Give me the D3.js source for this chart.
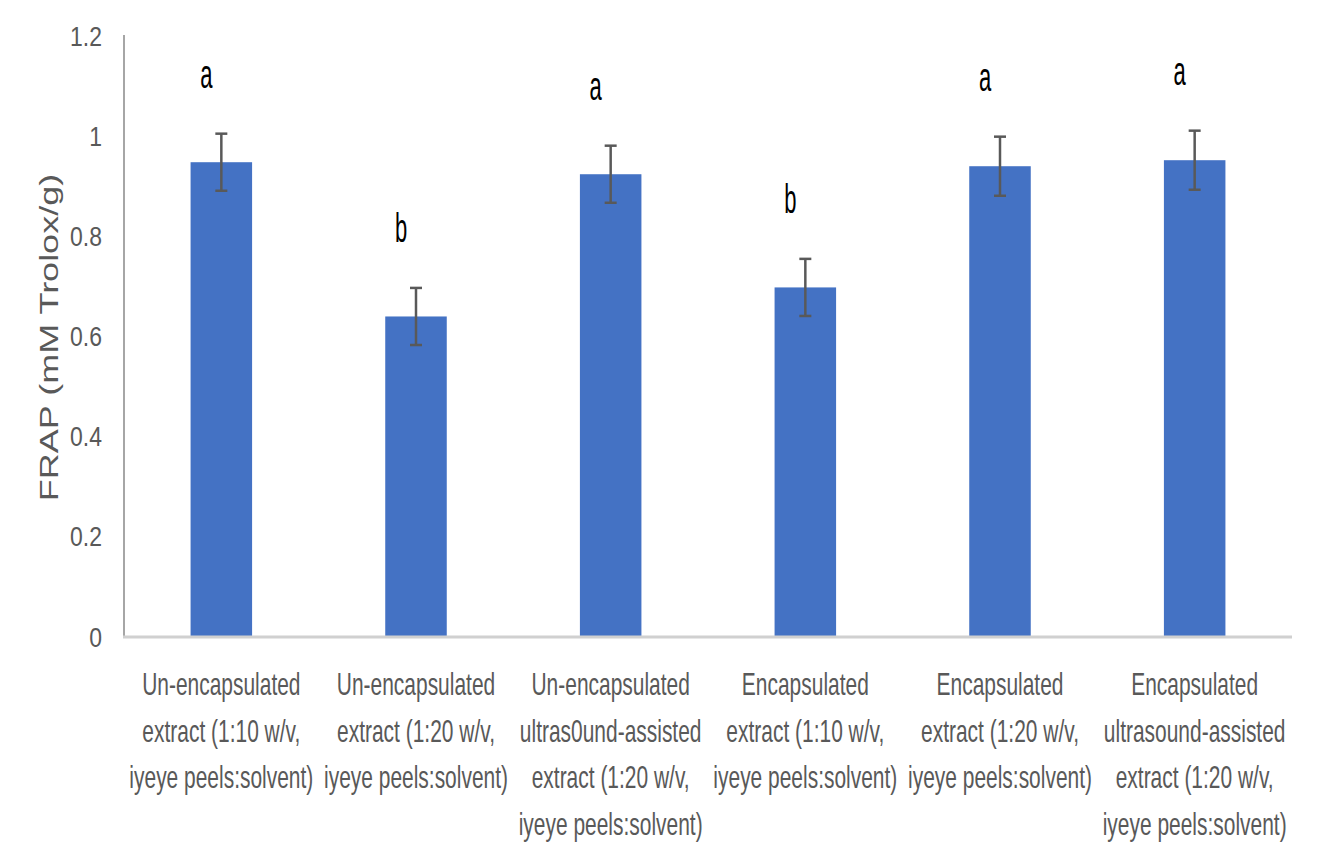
<!DOCTYPE html>
<html>
<head>
<meta charset="utf-8">
<script src="https://cdn.jsdelivr.net/npm/d3@7"></script>
<style>
  html, body { margin: 0; padding: 0; background: #ffffff; }
  svg { display: block; }
  text { font-family: "Liberation Sans", Arial, sans-serif; }
</style>
</head>
<body>
<svg id="chart" width="1335" height="842"></svg>
<script>
// FRAP antioxidant activity of iyeye peel extracts
const categories = [
  ["Un-encapsulated", "extract (1:10 w/v,", "iyeye peels:solvent)"],
  ["Un-encapsulated", "extract (1:20 w/v,", "iyeye peels:solvent)"],
  ["Un-encapsulated", "ultras0und-assisted", "extract (1:20 w/v,", "iyeye peels:solvent)"],
  ["Encapsulated", "extract (1:10 w/v,", "iyeye peels:solvent)"],
  ["Encapsulated", "extract (1:20 w/v,", "iyeye peels:solvent)"],
  ["Encapsulated", "ultrasound-assisted", "extract (1:20 w/v,", "iyeye peels:solvent)"]
];
const frapValues = [0.946, 0.638, 0.922, 0.696, 0.938, 0.950];
const frapErrors = [0.057, 0.057, 0.057, 0.057, 0.059, 0.059];
const groupLetters = ["a", "b", "a", "b", "a", "a"];
const yTicks = [0, 0.2, 0.4, 0.6, 0.8, 1, 1.2];
const yTitle = "FRAP (mM Trolox/g)";

const svg = d3.select("#chart");
const plot = { left: 124, right: 1292, top: 35, bottom: 636 };

const x = d3.scaleBand()
  .domain(d3.range(categories.length))
  .range([plot.left, plot.right])
  .paddingInner(0.684)
  .paddingOuter(0.342);

const y = d3.scaleLinear()
  .domain([0, 1.2])
  .range([plot.bottom, plot.top]);

// bars
svg.append("g")
  .selectAll("rect")
  .data(frapValues)
  .join("rect")
  .attr("x", (d, i) => x(i))
  .attr("y", d => y(d))
  .attr("width", x.bandwidth())
  .attr("height", d => y(0) - y(d))
  .attr("fill", "#4472C4");

// error bars
const errG = svg.append("g")
  .attr("stroke", "#595959")
  .attr("stroke-width", 2.5);
frapValues.forEach((v, i) => {
  const cx = x(i) + x.bandwidth() / 2;
  const hi = y(v + frapErrors[i]);
  const lo = y(v - frapErrors[i]);
  errG.append("line").attr("x1", cx).attr("x2", cx).attr("y1", hi).attr("y2", lo);
  errG.append("line").attr("x1", cx - 6).attr("x2", cx + 6).attr("y1", hi).attr("y2", hi);
  errG.append("line").attr("x1", cx - 6).attr("x2", cx + 6).attr("y1", lo).attr("y2", lo);
});

// significance letters above the error bars
svg.append("g")
  .selectAll("text")
  .data(groupLetters)
  .join("text")
  .attr("transform", (d, i) => {
    const cx = x(i) + x.bandwidth() / 2 - 15;
    const ty = y(frapValues[i] + frapErrors[i]) - 46;
    return `translate(${cx},${ty}) scale(0.55,1)`;
  })
  .attr("text-anchor", "middle")
  .attr("font-size", 40)
  .attr("fill", "#000000")
  .text(d => d);

// axis lines
svg.append("line")
  .attr("x1", plot.left).attr("x2", plot.left)
  .attr("y1", plot.top).attr("y2", plot.bottom)
  .attr("stroke", "#a6a6a6").attr("stroke-width", 2);
svg.append("line")
  .attr("x1", plot.left - 1).attr("x2", plot.right)
  .attr("y1", plot.bottom + 1).attr("y2", plot.bottom + 1)
  .attr("stroke", "#d0d0d0").attr("stroke-width", 3);

// y axis tick labels
const tickScaleX = 0.82;
const yAxis = svg.append("g")
  .attr("transform", `translate(${plot.left},0)`)
  .call(d3.axisLeft(y).tickValues(yTicks).tickSize(0).tickPadding(0)
    .tickFormat(d => String(+d.toFixed(1))));
yAxis.select(".domain").remove();
yAxis.selectAll("text")
  .attr("x", -22 / tickScaleX)
  .attr("dy", "0.36em")
  .attr("transform", `scale(${tickScaleX},1)`)
  .attr("font-family", "Liberation Sans, Arial, sans-serif")
  .attr("font-size", 28)
  .attr("fill", "#595959");

// y axis title
svg.append("text")
  .attr("transform", `translate(58,${(plot.top + plot.bottom) / 2 + 2}) scale(0.72,1) rotate(-90)`)
  .attr("text-anchor", "middle")
  .attr("font-size", 36)
  .attr("fill", "#595959")
  .text(yTitle);

// category labels
const catG = svg.append("g");
categories.forEach((lines, i) => {
  const cx = x(i) + x.bandwidth() / 2;
  catG.append("text")
    .attr("transform", `translate(${cx},695) scale(0.655,1)`)
    .attr("text-anchor", "middle")
    .attr("font-size", 32)
    .attr("fill", "#595959")
    .selectAll("tspan")
    .data(lines)
    .join("tspan")
    .attr("x", 0)
    .attr("y", (d, j) => j * 46.7)
    .text(d => d);
});
</script>
</body>
</html>
